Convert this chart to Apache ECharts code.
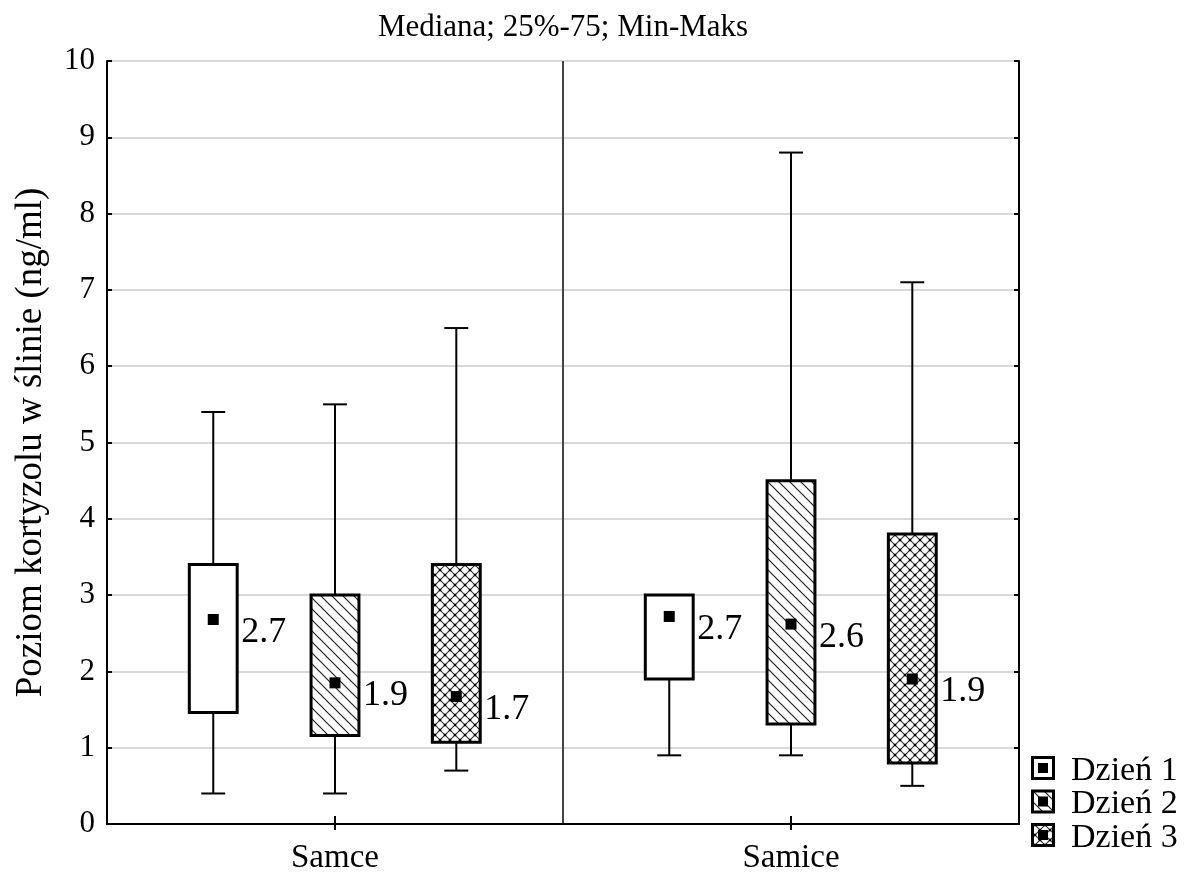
<!DOCTYPE html>
<html>
<head>
<meta charset="utf-8">
<script src="https://cdn.jsdelivr.net/npm/echarts@6/dist/echarts.min.js"></script>
<style>
html,body{margin:0;padding:0;background:#fff;}
#chart{width:1197px;height:872px;}
</style>
</head>
<body>
<div id="chart"></div>
<script>
// ---- data ----
const titleText = 'Mediana; 25%-75; Min-Maks';
const yAxisName = 'Poziom kortyzolu w ślinie (ng/ml)';
const categories = ['Samce', 'Samice'];
const seriesNames = ['Dzień 1', 'Dzień 2', 'Dzień 3'];
// rows: [min, q1, median, q3, max] for Samce, Samice
const dzien1 = [[0.40, 1.46, 2.68, 3.40, 5.40], [0.90, 1.90, 2.72, 3.00, 3.00]];
const dzien2 = [[0.40, 1.16, 1.85, 3.00, 5.50], [0.90, 1.31, 2.62, 4.50, 8.80]];
const dzien3 = [[0.70, 1.07, 1.67, 3.40, 6.50], [0.50, 0.80, 1.90, 3.80, 7.10]];
const medianLabels1 = ['2.7', '2.7'];
const medianLabels2 = ['1.9', '2.6'];
const medianLabels3 = ['1.7', '1.9'];
const yMin = 0, yMax = 10, yStep = 1;

// ---- patterns ----
function makeCanvas(s) { const c = document.createElement('canvas'); c.width = s; c.height = s; return c; }
function plainPattern() { return '#ffffff'; }
function hatchPattern() {
  const s = 11, c = makeCanvas(s), g = c.getContext('2d');
  g.fillStyle = '#fff'; g.fillRect(0, 0, s, s);
  g.strokeStyle = '#222'; g.lineWidth = 1.2;
  g.beginPath();
  g.moveTo(-2, -2); g.lineTo(s + 2, s + 2);
  g.moveTo(-2, s - 2); g.lineTo(2, s + 2);
  g.moveTo(s - 2, -2); g.lineTo(s + 2, 2);
  g.stroke();
  return { image: c, repeat: 'repeat' };
}
function crossPattern() {
  const s = 10, c = makeCanvas(s), g = c.getContext('2d');
  g.fillStyle = '#fff'; g.fillRect(0, 0, s, s);
  g.strokeStyle = '#333'; g.lineWidth = 1.1;
  g.beginPath();
  g.moveTo(-1, -1); g.lineTo(s + 1, s + 1);
  g.moveTo(s + 1, -1); g.lineTo(-1, s + 1);
  g.stroke();
  g.fillStyle = '#000';
  g.fillRect(s / 2 - 1.2, s / 2 - 1.2, 2.4, 2.4);
  g.fillRect(-1.2, -1.2, 2.4, 2.4); g.fillRect(s - 1.2, -1.2, 2.4, 2.4);
  g.fillRect(-1.2, s - 1.2, 2.4, 2.4); g.fillRect(s - 1.2, s - 1.2, 2.4, 2.4);
  return { image: c, repeat: 'repeat' };
}
const fills = [plainPattern(), hatchPattern(), crossPattern()];
const offsets = [-0.267, 0, 0.266];
const FONT = 'Liberation Serif';

function buildData(rows, labels) {
  return rows.map((r, i) => [i, r[0], r[1], r[2], r[3], r[4], labels[i]]);
}
const allData = [buildData(dzien1, medianLabels1), buildData(dzien2, medianLabels2), buildData(dzien3, medianLabels3)];

function makeRender(k) {
  return function (params, api) {
    const cat = api.value(0);
    const vMin = api.value(1), q1 = api.value(2), med = api.value(3), q3 = api.value(4), vMax = api.value(5);
    const band = api.size([1, 0])[0];
    const cx = api.coord([cat, 0])[0] + offsets[k] * band;
    const w = band * 0.105;
    const y = v => api.coord([cat, v])[1];
    const yMinP = y(vMin), yQ1 = y(q1), yMed = y(med), yQ3 = y(q3), yMaxP = y(vMax);
    const cap = w / 2;
    const lineStyle = { stroke: '#000', lineWidth: 2 };
    const label = allData[k][params.dataIndex][6];
    return {
      type: 'group',
      children: [
        { type: 'line', shape: { x1: cx, y1: yQ1, x2: cx, y2: yMinP }, style: lineStyle },
        { type: 'line', shape: { x1: cx, y1: yQ3, x2: cx, y2: yMaxP }, style: lineStyle },
        { type: 'line', shape: { x1: cx - cap / 2, y1: yMinP, x2: cx + cap / 2, y2: yMinP }, style: lineStyle },
        { type: 'line', shape: { x1: cx - cap / 2, y1: yMaxP, x2: cx + cap / 2, y2: yMaxP }, style: lineStyle },
        { type: 'rect', shape: { x: cx - w / 2, y: yQ3, width: w, height: yQ1 - yQ3 },
          style: { fill: fills[k], stroke: '#000', lineWidth: 3 } },
        { type: 'rect', shape: { x: cx - 5.5, y: yMed - 5.5, width: 11, height: 11 }, style: { fill: '#000' } },
        { type: 'text', x: cx + w / 2 + 4, y: yMed + 13,
          style: { text: label, fill: '#000', font: '36px "' + FONT + '"', textAlign: 'left', textVerticalAlign: 'middle' } }
      ]
    };
  };
}

const series = seriesNames.map((name, k) => ({
  type: 'custom',
  name: name,
  coordinateSystem: 'cartesian2d',
  xAxisIndex: 0, yAxisIndex: 0,
  encode: { x: 0, y: [1, 2, 3, 4, 5] },
  renderItem: makeRender(k),
  clip: false,
  silent: true,
  data: allData[k]
}));

// legend drawn as graphic
const legendGraphics = [];
seriesNames.forEach((name, k) => {
  const cy = 768 + k * 33.5;
  legendGraphics.push({ type: 'rect', shape: { x: 1032.5, y: cy - 10.5, width: 21, height: 21 },
    style: { fill: fills[k], stroke: '#000', lineWidth: 3 } });
  legendGraphics.push({ type: 'rect', shape: { x: 1038, y: cy - 5, width: 10, height: 10 }, style: { fill: '#000' } });
  legendGraphics.push({ type: 'text', x: 1071, y: cy + 3,
    style: { text: name, fill: '#000', font: '34px "' + FONT + '"', textVerticalAlign: 'middle' } });
});
legendGraphics.push({ type: 'text', x: 563, y: 28,
  style: { text: titleText, fill: '#000', font: '31px "' + FONT + '"', textAlign: 'center', textVerticalAlign: 'middle' } });

const chart = echarts.init(document.getElementById('chart'), null, { renderer: 'canvas' });
chart.setOption({
  backgroundColor: '#fff',
  animation: false,
  textStyle: { fontFamily: FONT },
  grid: { left: 107, right: 178, top: 61, bottom: 48, containLabel: false, outerBoundsMode: 'none' },
  xAxis: [
    { type: 'category', data: categories, position: 'bottom', boundaryGap: true,
      axisLine: { show: true, lineStyle: { color: '#000', width: 2 } },
      axisTick: { show: true, inside: true, alignWithLabel: true, length: 8, lineStyle: { color: '#000', width: 2 } },
      axisLabel: { color: '#000', fontSize: 33, fontFamily: FONT, margin: 18 },
      splitLine: { show: true, lineStyle: { color: '#444', width: 2 } } },
    { type: 'category', data: categories, position: 'top', boundaryGap: true,
      axisLine: { show: true, lineStyle: { color: '#000', width: 2 } },
      axisTick: { show: true, inside: true, alignWithLabel: true, length: 6, lineStyle: { color: '#000', width: 2 } },
      axisLabel: { show: false }, splitLine: { show: false } }
  ],
  yAxis: [
    { type: 'value', min: yMin, max: yMax, interval: yStep, position: 'left',
      axisLine: { show: true, lineStyle: { color: '#000', width: 2 } },
      axisTick: { show: true, inside: true, length: 5, lineStyle: { color: '#000', width: 2 } },
      axisLabel: { color: '#000', fontSize: 31, fontFamily: FONT, margin: 12 },
      splitLine: { show: true, lineStyle: { color: '#d9d9d9', width: 2 } },
      name: yAxisName, nameLocation: 'middle', nameGap: 57, nameRotate: 90,
      nameTextStyle: { color: '#000', fontSize: 37, fontFamily: FONT } },
    { type: 'value', min: yMin, max: yMax, interval: yStep, position: 'right',
      axisLine: { show: true, lineStyle: { color: '#000', width: 2 } },
      axisTick: { show: true, inside: true, length: 5, lineStyle: { color: '#000', width: 2 } },
      axisLabel: { show: false }, splitLine: { show: false } }
  ],
  graphic: legendGraphics,
  series: series
});
</script>
</body>
</html>
